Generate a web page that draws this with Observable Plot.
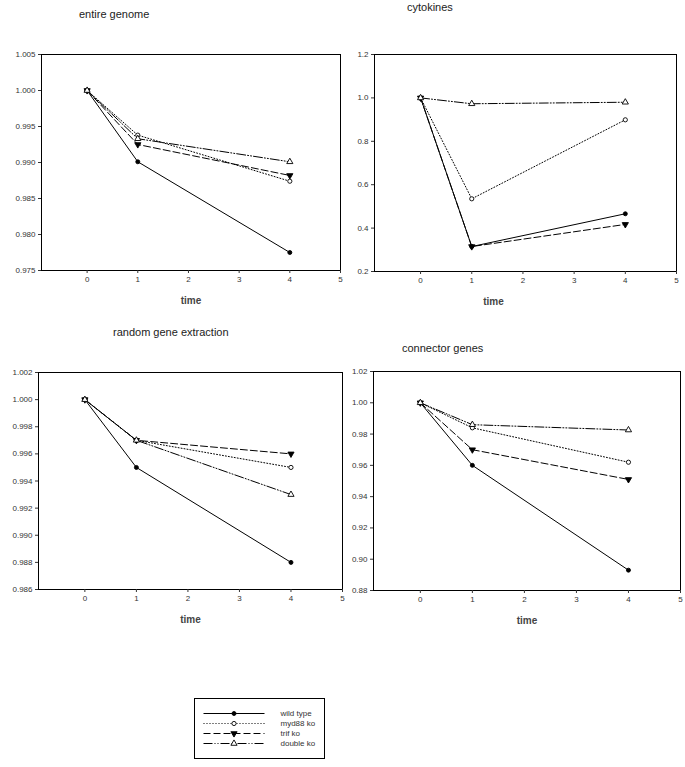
<!DOCTYPE html>
<html><head><meta charset="utf-8">
<script src="https://cdn.jsdelivr.net/npm/d3@7"></script>
<script src="https://cdn.jsdelivr.net/npm/@observablehq/plot@0.6"></script>
<style>
body{margin:0;background:#fff;font-family:"Liberation Sans",Arial,sans-serif;}
#wrap{position:relative;width:685px;height:767px;background:#fff;}
.panel{position:absolute;}
.title{position:absolute;font-size:11px;color:#222;white-space:nowrap;line-height:13px;}
.legend{position:absolute;border:1px solid #000;}
</style></head><body><div id="wrap"></div>
<script>
// ---- data ----
const times = [0, 1, 4];
const seriesNames = ["wild type", "myd88 ko", "trif ko", "double ko"];
// values at times 0, 1, 4 ; rows in seriesNames order
const entireGenome   = [[1.000, 0.9901, 0.9775], [1.000, 0.9938, 0.9874], [1.000, 0.9925, 0.9882], [1.000, 0.9933, 0.9901]];
const cytokines      = [[1.000, 0.315, 0.466], [1.000, 0.535, 0.899], [1.000, 0.315, 0.417], [1.000, 0.973, 0.980]];
const randomGene     = [[1.000, 0.995, 0.988], [1.000, 0.997, 0.995], [1.000, 0.997, 0.996], [1.000, 0.997, 0.993]];
const connectorGenes = [[1.000, 0.960, 0.893], [1.000, 0.984, 0.962], [1.000, 0.970, 0.951], [1.000, 0.986, 0.9826]];
const xTicks = [0, 1, 2, 3, 4, 5];
const entireTicks    = [0.975, 0.980, 0.985, 0.990, 0.995, 1.000, 1.005];
const cytokineTicks  = [0.2, 0.4, 0.6, 0.8, 1.0, 1.2];
const randomTicks    = [0.986, 0.988, 0.990, 0.992, 0.994, 0.996, 0.998, 1.000, 1.002];
const connectorTicks = [0.88, 0.90, 0.92, 0.94, 0.96, 0.98, 1.00, 1.02];
const titles = ["entire genome", "cytokines", "random gene extraction", "connector genes"];
const xLabel = "time";

// ---- styles ----
const seriesStyle = {
  "wild type": {dash: null, symbol: "circle", fill: "#000", rotate: 0, r: 2},
  "myd88 ko":  {dash: "1,2", symbol: "circle", fill: "#fff", rotate: 0, r: 2.1},
  "trif ko":   {dash: "7,3", symbol: "triangle", fill: "#000", rotate: 180, r: 2.3},
  "double ko": {dash: "9,2,1,2,1,2", symbol: "triangle", fill: "#fff", rotate: 0, r: 2.3}
};

const panels = [
  {title: titles[0], values: entireGenome, ticks: entireTicks, fmt: ".3f", left: 0, top: 40, width: 345, height: 280, ml: 41, mr: 5, mt: 14, mb: 50, tl: 79, tt: 8, timeDx: 0},
  {title: titles[1], values: cytokines, ticks: cytokineTicks, fmt: ".1f", left: 345, top: 40, width: 340, height: 280, ml: 29, mr: 9, mt: 14, mb: 49, tl: 407, tt: 1, timeDx: -32},
  {title: titles[2], values: randomGene, ticks: randomTicks, fmt: ".3f", left: 0, top: 350, width: 345, height: 290, ml: 38, mr: 3, mt: 22, mb: 51, tl: 113, tt: 326, timeDx: 0},
  {title: titles[3], values: connectorGenes, ticks: connectorTicks, fmt: ".2f", left: 345, top: 350, width: 340, height: 290, ml: 28, mr: 5, mt: 21, mb: 50, tl: 402, tt: 342, timeDx: 0}
];

const wrap = document.getElementById("wrap");
const font = "'Liberation Sans', Arial, sans-serif";

for (const p of panels) {
  const rows = [];
  p.values.forEach((vals, i) => vals.forEach((v, j) => rows.push({series: seriesNames[i], time: times[j], value: v})));
  const marks = [Plot.frame({stroke: "#000"})];
  for (const s of seriesNames) {
    const st = seriesStyle[s];
    const d = rows.filter(r => r.series === s);
    marks.push(Plot.line(d, {x: "time", y: "value", stroke: "#000", strokeWidth: 1, strokeDasharray: st.dash}));
  }
  for (const s of seriesNames) {
    const st = seriesStyle[s];
    const d = rows.filter(r => r.series === s);
    marks.push(Plot.dot(d, {x: "time", y: "value", symbol: () => st.symbol, fill: st.fill, stroke: "#000", strokeWidth: 0.9, r: st.r, rotate: st.rotate}));
  }
  marks.push(Plot.axisX({ticks: xTicks, tickSize: 3, tickPadding: 3, label: null, tickFormat: d3.format("d")}));
  marks.push(Plot.axisY({ticks: p.ticks, tickSize: 3, tickPadding: 3, label: null, tickFormat: d3.format(p.fmt)}));
  marks.push(Plot.text([xLabel], {frameAnchor: "bottom", dy: 33, dx: p.timeDx, text: d => d, fontSize: 10, fontWeight: "bold", fill: "#444"}));
  const chart = Plot.plot({
    width: p.width, height: p.height,
    marginLeft: p.ml, marginRight: p.mr, marginTop: p.mt, marginBottom: p.mb,
    x: {domain: [-0.9, 5], label: null},
    y: {domain: [p.ticks[0], p.ticks[p.ticks.length - 1]], label: null},
    style: {background: "#fff", fontFamily: font, fontSize: "8px", color: "#333", overflow: "visible"},
    marks
  });
  const div = document.createElement("div");
  div.className = "panel";
  div.style.left = p.left + "px"; div.style.top = p.top + "px";
  div.appendChild(chart);
  wrap.appendChild(div);
  const t = document.createElement("div");
  t.className = "title";
  t.style.left = p.tl + "px"; t.style.top = p.tt + "px";
  t.textContent = p.title;
  wrap.appendChild(t);
}

// ---- legend ----
const legendRows = seriesNames.map(s => ({series: s}));
const lmarks = [];
for (const s of seriesNames) {
  const st = seriesStyle[s];
  const d = legendRows.filter(r => r.series === s);
  lmarks.push(Plot.link(d, {x1: () => 0, x2: () => 1, y1: "series", y2: "series", stroke: "#000", strokeWidth: 1, strokeDasharray: st.dash}));
  lmarks.push(Plot.dot(d, {x: () => 0.5, y: "series", symbol: () => st.symbol, fill: st.fill, stroke: "#000", strokeWidth: 0.9, r: st.r, rotate: st.rotate}));
  lmarks.push(Plot.text(d, {x: () => 1, y: "series", text: "series", dx: 16, textAnchor: "start", fontSize: 8, fill: "#333"}));
}
const legend = Plot.plot({
  width: 129, height: 59,
  marginLeft: 8, marginRight: 60, marginTop: 13.7, marginBottom: 13.7,
  x: {domain: [0, 1], axis: null},
  y: {type: "point", domain: seriesNames, padding: 0, axis: null},
  style: {background: "#fff", fontFamily: font, fontSize: "8px", overflow: "visible"},
  marks: lmarks
});
const ld = document.createElement("div");
ld.className = "legend";
ld.style.left = "194px"; ld.style.top = "698px";
ld.style.width = "129px"; ld.style.height = "59px";
ld.appendChild(legend);
wrap.appendChild(ld);
</script>
</body></html>
